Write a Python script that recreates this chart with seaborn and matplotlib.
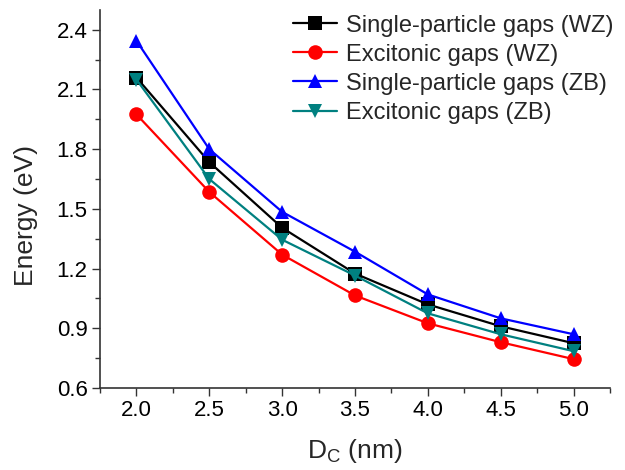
import matplotlib
matplotlib.use("Agg")
import matplotlib.pyplot as plt
from matplotlib.ticker import MultipleLocator, AutoMinorLocator, FormatStrFormatter
import seaborn as sns
import pandas as pd

diameters = [2.0, 2.5, 3.0, 3.5, 4.0, 4.5, 5.0]
sp_wz = [2.16, 1.735, 1.405, 1.175, 1.02, 0.91, 0.825]
ex_wz = [1.975, 1.585, 1.27, 1.065, 0.925, 0.83, 0.745]
sp_zb = [2.345, 1.80, 1.485, 1.285, 1.07, 0.95, 0.87]
ex_zb = [2.15, 1.65, 1.345, 1.165, 0.975, 0.87, 0.785]

labels = ["Single-particle gaps (WZ)", "Excitonic gaps (WZ)",
          "Single-particle gaps (ZB)", "Excitonic gaps (ZB)"]
series = [sp_wz, ex_wz, sp_zb, ex_zb]
colors = ["#000000", "#ff0000", "#0000ff", "#008080"]
markers = ["s", "o", "^", "v"]
y_ticks = [0.6, 0.9, 1.2, 1.5, 1.8, 2.1, 2.4]

rows = []
for lab, vals in zip(labels, series):
    for d, v in zip(diameters, vals):
        rows.append({"D": d, "E": v, "series": lab})
df = pd.DataFrame(rows)

sns.set_theme(style="ticks")
plt.rcParams["font.family"] = ["Liberation Sans", "DejaVu Sans"]
plt.rcParams["mathtext.fontset"] = "custom"
plt.rcParams["mathtext.rm"] = "Liberation Sans"

fig = plt.figure(figsize=(6.25, 4.7), dpi=100)
ax = fig.add_axes([0.16, 0.1745, 0.816, 0.8045])

sns.lineplot(data=df, x="D", y="E", hue="series", style="series",
             hue_order=labels, style_order=labels,
             palette=colors, markers=markers, dashes=False,
             markersize=10.5, linewidth=1.6, markeredgewidth=0,
             ax=ax)

ax.set_xlim(1.75, 5.25)
ax.set_ylim(0.6, 2.5)
ax.xaxis.set_major_locator(MultipleLocator(0.5))
ax.xaxis.set_minor_locator(AutoMinorLocator(2))
ax.set_yticks(y_ticks)
ax.yaxis.set_minor_locator(MultipleLocator(0.15))
ax.xaxis.set_major_formatter(FormatStrFormatter("%.1f"))
ax.yaxis.set_major_formatter(FormatStrFormatter("%.1f"))
ax.tick_params(which="major", direction="out", length=6, width=1,
               colors="#333333", pad=3)
ax.tick_params(which="minor", direction="out", length=3.5, width=1, colors="#333333")
for lab in ax.get_xticklabels() + ax.get_yticklabels():
    lab.set_fontsize(16)
    lab.set_color("black")
for s in ["top", "right"]:
    ax.spines[s].set_visible(False)
for s in ["left", "bottom"]:
    ax.spines[s].set_linewidth(1.2)
    ax.spines[s].set_color("#333333")

ax.set_xlabel(r"D$_\mathregular{C}$ (nm)", fontsize=19)
ax.set_ylabel("Energy (eV)", fontsize=19)
ax.xaxis.set_label_coords(0.5, -0.13)
ax.yaxis.set_label_coords(-0.122, 0.455)

leg = ax.legend(loc="upper right", bbox_to_anchor=(1.034, 1.025), frameon=False,
                fontsize=17, handlelength=1.9, handletextpad=0.35,
                labelspacing=0.3, borderaxespad=0.2, markerscale=1.0)

fig.savefig("out.png", dpi=100)
